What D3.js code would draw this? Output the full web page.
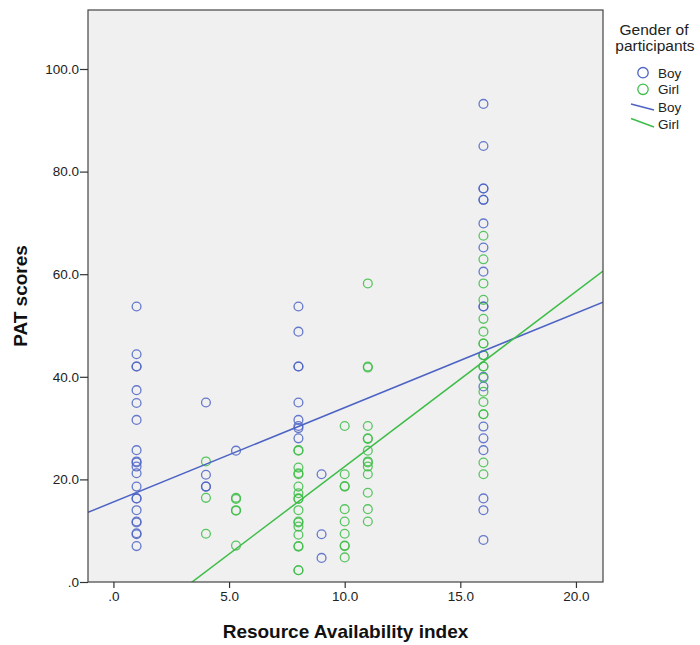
<!DOCTYPE html>
<html><head><meta charset="utf-8">
<script src="https://cdn.jsdelivr.net/npm/d3@7"></script>
<style>body{margin:0;background:#fff;} text{font-family:"Liberation Sans",Arial,sans-serif;}</style>
</head><body><svg id="c" width="700" height="645"></svg>
<script>
// Resource Availability index (x) and PAT scores (y)
const boyPoints = [
 [1,53.7],[1,44.4],[1,42.0],[1,42.0],[1,37.4],[1,34.9],[1,31.6],[1,25.7],[1,23.5],[1,23.3],[1,22.5],[1,21.2],[1,18.6],[1,16.3],[1,16.3],[1,14.0],[1,11.8],[1,11.6],[1,9.5],[1,9.3],[1,7.0],
 [4,35.0],[4,20.9],[4,18.6],[4,18.6],
 [5.3,25.6],
 [8,53.7],[8,48.8],[8,42.0],[8,42.0],[8,35.0],[8,31.6],[8,30.4],[8,30.0],[8,28.0],
 [9,21.0],[9,9.3],[9,4.7],
 [16,93.2],[16,85.0],[16,76.7],[16,76.7],[16,74.5],[16,74.5],[16,69.9],[16,65.2],[16,60.5],[16,53.7],[16,53.7],[16,44.2],[16,40.0],[16,38.1],[16,30.3],[16,28.0],[16,25.7],[16,16.3],[16,14.0],[16,8.2]
];
const girlPoints = [
 [4,23.5],[4,16.4],[4,9.4],
 [5.3,16.4],[5.3,16.2],[5.3,14.0],[5.3,13.9],[5.3,7.1],
 [8,25.7],[8,25.6],[8,22.3],[8,21.2],[8,21.0],[8,18.6],[8,17.3],[8,16.3],[8,16.2],[8,14.0],[8,11.8],[8,11.6],[8,10.8],[8,9.2],[8,7.0],[8,6.9],[8,2.3],[8,2.3],
 [10,30.4],[10,21.0],[10,18.7],[10,18.6],[10,14.2],[10,11.8],[10,9.4],[10,7.1],[10,7.0],[10,4.8],
 [11,58.2],[11,42.0],[11,41.8],[11,30.4],[11,28.0],[11,27.9],[11,25.6],[11,23.5],[11,23.3],[11,22.5],[11,21.0],[11,17.4],[11,14.2],[11,11.8],
 [16,67.5],[16,62.9],[16,58.2],[16,55.0],[16,51.3],[16,48.8],[16,46.5],[16,46.5],[16,44.2],[16,44.2],[16,42.0],[16,42.0],[16,39.8],[16,37.1],[16,35.1],[16,32.7],[16,32.7],[16,23.3],[16,21.0]
];
// fit lines: [intercept, slope]
const boyFit = [15.6, 1.84];
const girlFit = [-11.6, 3.41];
const xTicks = [0,5,10,15,20];
const yTicks = [0,20,40,60,80,100];
const groups = ["Boy","Girl"];
const colors = {Boy:"#4c63c4", Girl:"#3dbd47"};

const svg = d3.select("#c");
const L=88, R=603, T=10, B=582;
const x = d3.scaleLinear().domain([-1.1,21.17]).range([L,R]);
const y = d3.scaleLinear().domain([0,111.5]).range([B,T]);
const fmt = v => v===0 ? ".0" : d3.format(".1f")(v);

svg.append("clipPath").attr("id","pc").append("rect").attr("x",L).attr("y",T).attr("width",R-L).attr("height",B-T);
svg.append("rect").attr("x",L).attr("y",T).attr("width",R-L).attr("height",B-T).attr("fill","#f0f0f0");

const plot = svg.append("g").attr("clip-path","url(#pc)");
function drawPts(pts,c){
  plot.append("g").selectAll("circle").data(pts).join("circle")
   .attr("cx",d=>x(d[0])).attr("cy",d=>y(d[1])).attr("r",4.4)
   .attr("fill","none").attr("stroke",c).attr("stroke-width",1.3).attr("stroke-opacity",0.85);
}
drawPts(boyPoints,colors.Boy);
drawPts(girlPoints,colors.Girl);
function drawFit(f,c){
  const [x0,x1]=x.domain();
  plot.append("line").attr("x1",x(x0)).attr("y1",y(f[0]+f[1]*x0)).attr("x2",x(x1)).attr("y2",y(f[0]+f[1]*x1))
   .attr("stroke",c).attr("stroke-width",1.5);
}
drawFit(boyFit,colors.Boy);
drawFit(girlFit,colors.Girl);

svg.append("rect").attr("x",L).attr("y",T).attr("width",R-L).attr("height",B-T).attr("fill","none").attr("stroke","#444").attr("stroke-width",1.2);

const xa = svg.append("g").attr("transform",`translate(0,${B})`).call(d3.axisBottom(x).tickValues(xTicks).tickFormat(fmt).tickSize(6).tickPadding(3));
const ya = svg.append("g").attr("transform",`translate(${L},0)`).call(d3.axisLeft(y).tickValues(yTicks).tickFormat(fmt).tickSize(8).tickPadding(1));
[xa,ya].forEach(a=>{a.select(".domain").remove();a.selectAll("line").attr("stroke","#333").attr("stroke-width",1.2);
 a.selectAll("text").attr("fill","#222").style("font-size","13.5px").style("font-family","'Liberation Sans',Arial,sans-serif");});

svg.append("text").attr("x",(L+R)/2).attr("y",638).attr("text-anchor","middle").style("font-size","19px").style("font-weight","bold").attr("fill","#111").text("Resource Availability index");
svg.append("text").attr("transform",`translate(27,${(T+B)/2}) rotate(-90)`).attr("text-anchor","middle").style("font-size","19px").style("font-weight","bold").attr("fill","#111").text("PAT scores");

// legend
const lg = svg.append("g");
lg.append("text").attr("x",654).attr("y",35).attr("text-anchor","middle").style("font-size","15.5px").attr("fill","#222").text("Gender of");
lg.append("text").attr("x",655).attr("y",51).attr("text-anchor","middle").style("font-size","15.5px").attr("fill","#222").text("participants");
groups.forEach((g,i)=>{
  lg.append("circle").attr("cx",643).attr("cy",72.7+i*16.6).attr("r",5.2).attr("fill","none").attr("stroke",colors[g]).attr("stroke-width",1.3);
  lg.append("text").attr("x",658).attr("y",77.5+i*16.6).style("font-size","13.5px").attr("fill","#222").text(g);
});
groups.forEach((g,i)=>{
  const yy=104+i*14.5;
  lg.append("line").attr("x1",631).attr("y1",yy).attr("x2",654).attr("y2",yy+(i?8.5:6)).attr("stroke",colors[g]).attr("stroke-width",1.5);
  lg.append("text").attr("x",658).attr("y",112+i*17).style("font-size","13.5px").attr("fill","#222").text(g);
});
</script></body></html>
